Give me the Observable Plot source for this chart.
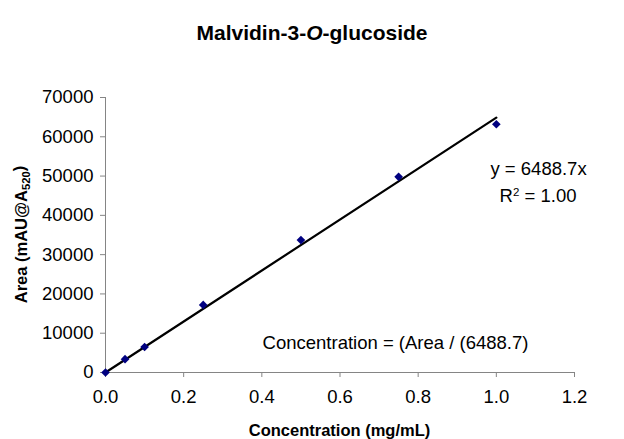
<!DOCTYPE html>
<html>
<head>
<meta charset="utf-8">
<script src="https://cdn.jsdelivr.net/npm/d3@7"></script>
<script src="https://cdn.jsdelivr.net/npm/@observablehq/plot@0.6"></script>
<style>
  html, body { margin: 0; padding: 0; background: #fff; }
  svg { font-family: "Liberation Sans", Arial, sans-serif; }
</style>
</head>
<body>
<div id="chart"></div>
<script>
// Calibration standards: concentration (mg/mL) vs. peak area (mAU@A520)
const concentration = [0, 0.05, 0.1, 0.25, 0.5, 0.75, 1.0];
const area = [0, 3400, 6500, 17200, 33700, 49800, 63200];

// Linear fit through the origin; the printed coefficient is per 0.1 mg/mL
const slope = 6488.7;
const rSquared = "1.00";
const fitX = [0, 1.0];

const xTicks = [0, 0.2, 0.4, 0.6, 0.8, 1.0, 1.2];
const yTicks = [0, 10000, 20000, 30000, 40000, 50000, 60000, 70000];

// Annotation anchors in data units
const eqLabel = {x: 1.108, y: 51700};
const r2Label = {x: 1.108, y: 44800};
const concLabel = {x: 0.742, y: 7400};

const points = concentration.map((c, i) => ({c, a: area[i]}));
const fit = fitX.map(c => ({c, a: slope * 10 * c}));

const axisGray = "#858585";
const tickFont = 18.5;
const noteFont = 18.5;
const axisTitleFont = 16.5;

const plot = Plot.plot({
  width: 624,
  height: 439,
  marginLeft: 105,
  marginRight: 50,
  marginTop: 97,
  marginBottom: 67,
  style: {fontFamily: "Liberation Sans, Arial, sans-serif", background: "#fff"},
  x: {domain: [0, 1.2]},
  y: {domain: [0, 70000]},
  marks: [
    Plot.axisX({ticks: xTicks, tickFormat: d3.format(".1f"), tickSize: 5, tickPadding: 12,
      stroke: axisGray, fill: "black", fontSize: tickFont, label: null}),
    Plot.axisY({ticks: yTicks, tickFormat: d => String(d), tickSize: 5, tickPadding: 7,
      stroke: axisGray, fill: "black", fontSize: tickFont, label: null}),
    Plot.ruleX([0], {stroke: axisGray}),
    Plot.ruleY([0], {stroke: axisGray}),
    Plot.line(fit, {x: "c", y: "a", stroke: "black", strokeWidth: 2.2}),
    Plot.dot(points, {x: "c", y: "a", symbol: "diamond2", r: 3.9, fill: "#000080", stroke: "none"}),
    Plot.text([eqLabel], {x: "x", y: "y", text: () => `y = ${slope}x`, fontSize: noteFont, fill: "black"}),
    Plot.text([concLabel], {x: "x", y: "y", text: () => `Concentration = (Area / (${slope})`, fontSize: noteFont, fill: "black"})
  ]
});

const svg = d3.select(plot);
const x = plot.scale("x"), y = plot.scale("y");

// R² label with a superscript
const r2 = svg.append("text")
  .attr("x", x.apply(r2Label.x)).attr("y", y.apply(r2Label.y))
  .attr("text-anchor", "middle").attr("dy", "0.32em")
  .attr("font-size", noteFont).attr("fill", "black");
r2.append("tspan").text("R");
r2.append("tspan").attr("font-size", noteFont * 0.62).attr("dy", "-0.55em").text("2");
r2.append("tspan").attr("dy", "0.34em").text(` = ${rSquared}`);

// Chart title
const title = svg.append("text")
  .attr("x", 312).attr("y", 40)
  .attr("text-anchor", "middle").attr("font-weight", "bold")
  .attr("font-size", 21).attr("fill", "black");
title.append("tspan").text("Malvidin-3-");
title.append("tspan").attr("font-style", "italic").text("O");
title.append("tspan").text("-glucoside");

// X axis title
svg.append("text")
  .attr("x", (x.range[0] + x.range[1]) / 2).attr("y", 436)
  .attr("text-anchor", "middle").attr("font-weight", "bold")
  .attr("font-size", axisTitleFont).attr("fill", "black")
  .text("Concentration (mg/mL)");

// Y axis title with subscript
const yMid = (y.range[0] + y.range[1]) / 2;
const yt = svg.append("text")
  .attr("transform", `translate(27,${yMid}) rotate(-90)`)
  .attr("text-anchor", "middle").attr("font-weight", "bold")
  .attr("font-size", axisTitleFont).attr("fill", "black");
yt.append("tspan").text("Area (mAU@A");
yt.append("tspan").attr("font-size", axisTitleFont * 0.68).attr("dy", "0.3em").text("520");
yt.append("tspan").attr("dy", "-0.3em").text(")");

document.getElementById("chart").append(plot);
</script>
</body>
</html>
